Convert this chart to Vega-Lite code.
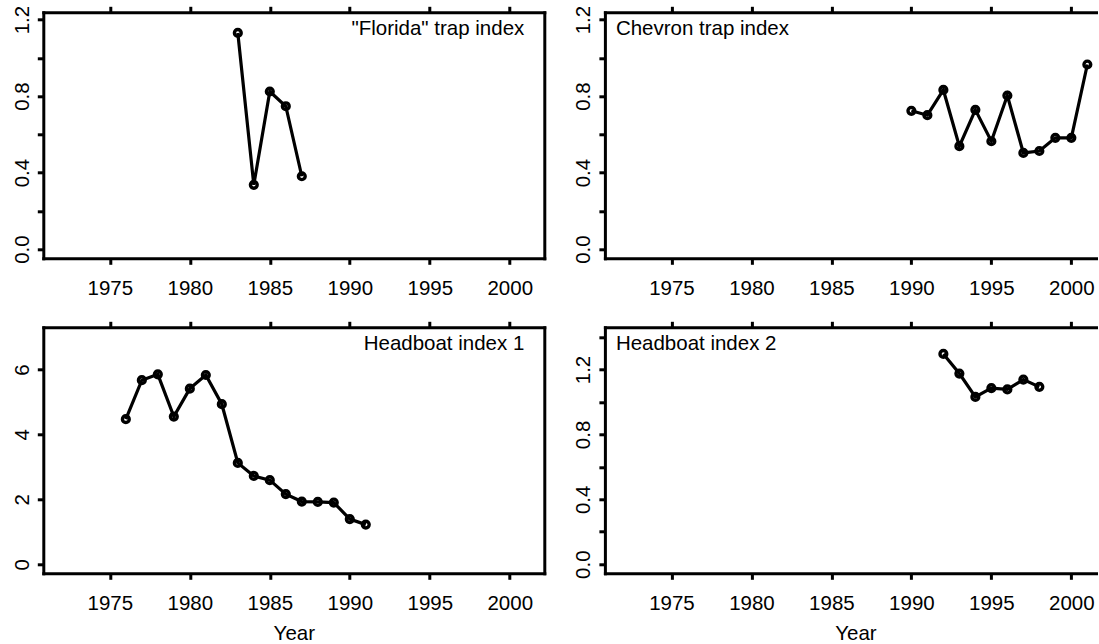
{
  "$schema": "https://vega.github.io/schema/vega-lite/v6.json",
  "autosize": {"type": "pad"},
  "padding": {"left": 11.3, "top": 4.3, "right": 0, "bottom": 0},
  "background": "white",
  "config": {
    "font": "Liberation Sans",
    "view": {"stroke": null},
    "axis": {
      "grid": false,
      "domainColor": "black", "domainWidth": 3, "domainCap": "square",
      "tickColor": "black", "tickWidth": 3, "tickSize": 6,
      "labelFont": "Liberation Sans", "labelFontSize": 20.5, "labelColor": "black",
      "titleFont": "Liberation Sans", "titleFontSize": 20.5, "titleFontWeight": "normal", "titleColor": "black"
    },
    "title": {"font": "Liberation Sans", "fontSize": 20.5, "fontWeight": "normal", "color": "black", "frame": "group", "baseline": "alphabetic", "offset": -34.5},
    "line": {"color": "black", "strokeWidth": 3.2},
    "point": {"color": "black", "filled": false, "strokeWidth": 3.4, "size": 46, "opacity": 1}
  },
  "datasets": {
    "florida": [
      {"year": 1983, "index": 1.13}, {"year": 1984, "index": 0.336}, {"year": 1985, "index": 0.824},
      {"year": 1986, "index": 0.747}, {"year": 1987, "index": 0.381}
    ],
    "chevron": [
      {"year": 1990, "index": 0.723}, {"year": 1991, "index": 0.70}, {"year": 1992, "index": 0.832},
      {"year": 1993, "index": 0.538}, {"year": 1994, "index": 0.728}, {"year": 1995, "index": 0.564},
      {"year": 1996, "index": 0.803}, {"year": 1997, "index": 0.503}, {"year": 1998, "index": 0.513},
      {"year": 1999, "index": 0.582}, {"year": 2000, "index": 0.582}, {"year": 2001, "index": 0.965}
    ],
    "headboat1": [
      {"year": 1976, "index": 4.47}, {"year": 1977, "index": 5.67}, {"year": 1978, "index": 5.85},
      {"year": 1979, "index": 4.55}, {"year": 1980, "index": 5.41}, {"year": 1981, "index": 5.83},
      {"year": 1982, "index": 4.93}, {"year": 1983, "index": 3.12}, {"year": 1984, "index": 2.72},
      {"year": 1985, "index": 2.59}, {"year": 1986, "index": 2.16}, {"year": 1987, "index": 1.93},
      {"year": 1988, "index": 1.92}, {"year": 1989, "index": 1.90}, {"year": 1990, "index": 1.39},
      {"year": 1991, "index": 1.22}
    ],
    "headboat2": [
      {"year": 1992, "index": 1.296}, {"year": 1993, "index": 1.175}, {"year": 1994, "index": 1.031},
      {"year": 1995, "index": 1.085}, {"year": 1996, "index": 1.077}, {"year": 1997, "index": 1.138},
      {"year": 1998, "index": 1.093}
    ]
  },
  "bounds": "flush",
  "columns": 2,
  "spacing": {"row": 69, "column": 60.6},
  "concat": [
    {
      "width": 501, "height": 246,
      "title": {"text": "\"Florida\" trap index", "anchor": "end", "dx": -20},
      "data": {"name": "florida"},
      "layer": [
        {
          "mark": "line",
          "encoding": {
            "x": {"field": "year", "type": "quantitative",
              "scale": {"domain": [1970.84, 2002.16], "nice": false, "zero": false},
              "axis": {"orient": "bottom", "values": [1975, 1980, 1985, 1990, 1995, 2000], "format": "d", "labelPadding": 30, "labelBaseline": "alphabetic", "title": null}},
            "y": {"field": "index", "type": "quantitative",
              "scale": {"domain": [-0.048, 1.238], "nice": false, "zero": false},
              "axis": {"orient": "left", "values": [0, 0.2, 0.4, 0.6, 0.8, 1, 1.2], "labelExpr": "round(datum.value*10) % 4 == 0 ? format(datum.value, '.1f') : ''", "labelAngle": 270, "labelAlign": "center", "labelBaseline": "alphabetic", "labelPadding": 9, "title": null}}
          }
        },
        {
          "mark": "point",
          "encoding": {
            "x": {"field": "year", "type": "quantitative",
              "axis": {"orient": "top", "values": [1975, 1980, 1985, 1990, 1995, 2000], "labels": false, "title": null}},
            "y": {"field": "index", "type": "quantitative",
              "axis": {"orient": "right", "ticks": false, "labels": false, "title": null}}
          }
        }
      ],
      "resolve": {"axis": {"x": "independent", "y": "independent"}}
    },
    {
      "width": 493, "height": 246,
      "title": {"text": "Chevron trap index", "anchor": "start", "dx": 11},
      "data": {"name": "chevron"},
      "layer": [
        {
          "mark": "line",
          "encoding": {
            "x": {"field": "year", "type": "quantitative",
              "scale": {"domain": [1970.84, 2001.66], "nice": false, "zero": false},
              "axis": {"orient": "bottom", "values": [1975, 1980, 1985, 1990, 1995, 2000], "format": "d", "labelPadding": 30, "labelBaseline": "alphabetic", "title": null}},
            "y": {"field": "index", "type": "quantitative",
              "scale": {"domain": [-0.048, 1.238], "nice": false, "zero": false},
              "axis": {"orient": "left", "values": [0, 0.2, 0.4, 0.6, 0.8, 1, 1.2], "labelExpr": "round(datum.value*10) % 4 == 0 ? format(datum.value, '.1f') : ''", "labelAngle": 270, "labelAlign": "center", "labelBaseline": "alphabetic", "labelPadding": 9, "title": null}}
          }
        },
        {
          "mark": "point",
          "encoding": {
            "x": {"field": "year", "type": "quantitative",
              "axis": {"orient": "top", "values": [1975, 1980, 1985, 1990, 1995, 2000], "labels": false, "title": null}},
            "y": {"field": "index", "type": "quantitative", "axis": null}
          }
        }
      ],
      "resolve": {"axis": {"x": "independent", "y": "independent"}}
    },
    {
      "width": 501, "height": 246,
      "title": {"text": "Headboat index 1", "anchor": "end", "dx": -20},
      "data": {"name": "headboat1"},
      "layer": [
        {
          "mark": "line",
          "encoding": {
            "x": {"field": "year", "type": "quantitative",
              "scale": {"domain": [1970.84, 2002.16], "nice": false, "zero": false},
              "axis": {"orient": "bottom", "values": [1975, 1980, 1985, 1990, 1995, 2000], "format": "d", "labelPadding": 30, "labelBaseline": "alphabetic", "title": "Year", "titleY": 66, "titleBaseline": "alphabetic"}},
            "y": {"field": "index", "type": "quantitative",
              "scale": {"domain": [-0.28, 7.3], "nice": false, "zero": false},
              "axis": {"orient": "left", "values": [0, 2, 4, 6], "format": "d", "labelAngle": 270, "labelAlign": "center", "labelBaseline": "alphabetic", "labelPadding": 9, "title": null}}
          }
        },
        {
          "mark": "point",
          "encoding": {
            "x": {"field": "year", "type": "quantitative",
              "axis": {"orient": "top", "values": [1975, 1980, 1985, 1990, 1995, 2000], "labels": false, "title": null}},
            "y": {"field": "index", "type": "quantitative",
              "axis": {"orient": "right", "ticks": false, "labels": false, "title": null}}
          }
        }
      ],
      "resolve": {"axis": {"x": "independent", "y": "independent"}}
    },
    {
      "width": 493, "height": 246,
      "title": {"text": "Headboat index 2", "anchor": "start", "dx": 11},
      "data": {"name": "headboat2"},
      "layer": [
        {
          "mark": "line",
          "encoding": {
            "x": {"field": "year", "type": "quantitative",
              "scale": {"domain": [1970.84, 2001.66], "nice": false, "zero": false},
              "axis": {"orient": "bottom", "values": [1975, 1980, 1985, 1990, 1995, 2000], "format": "d", "labelPadding": 30, "labelBaseline": "alphabetic", "title": "Year", "titleY": 66, "titleX": 250.5, "titleAlign": "center", "titleBaseline": "alphabetic"}},
            "y": {"field": "index", "type": "quantitative",
              "scale": {"domain": [-0.056, 1.46], "nice": false, "zero": false},
              "axis": {"orient": "left", "values": [0, 0.2, 0.4, 0.6, 0.8, 1, 1.2, 1.4], "labelExpr": "round(datum.value*10) % 4 == 0 ? format(datum.value, '.1f') : ''", "labelAngle": 270, "labelAlign": "center", "labelBaseline": "alphabetic", "labelPadding": 9, "title": null}}
          }
        },
        {
          "mark": "point",
          "encoding": {
            "x": {"field": "year", "type": "quantitative",
              "axis": {"orient": "top", "values": [1975, 1980, 1985, 1990, 1995, 2000], "labels": false, "title": null}},
            "y": {"field": "index", "type": "quantitative", "axis": null}
          }
        }
      ],
      "resolve": {"axis": {"x": "independent", "y": "independent"}}
    }
  ]
}
